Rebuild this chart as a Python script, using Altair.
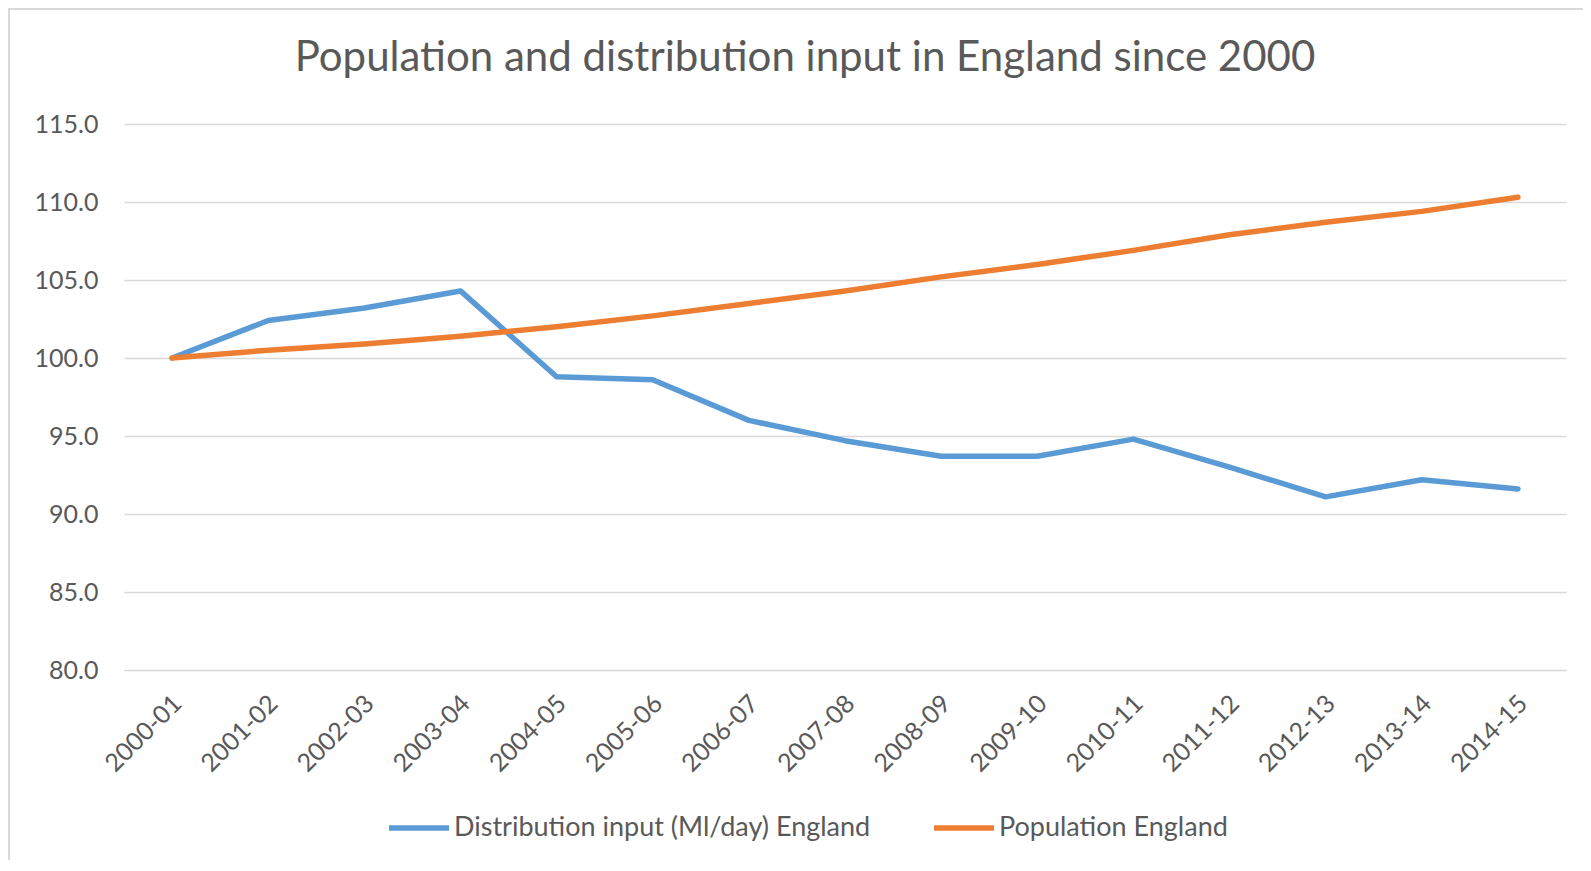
import altair as alt
import pandas as pd

years = ["2000-01", "2001-02", "2002-03", "2003-04", "2004-05", "2005-06", "2006-07",
         "2007-08", "2008-09", "2009-10", "2010-11", "2011-12", "2012-13", "2013-14", "2014-15"]
distribution = [100.0, 102.4, 103.2, 104.3, 98.8, 98.6, 96.0, 94.7, 93.7, 93.7, 94.8, 93.0, 91.1, 92.2, 91.6]
population = [100.0, 100.5, 100.9, 101.4, 102.0, 102.7, 103.5, 104.3, 105.2, 106.0, 106.9, 107.9, 108.7, 109.4, 110.3]
series_names = ["Distribution input (Ml/day) England", "Population England"]
series_colors = ["#5B9BD5", "#ED7D31"]
y_ticks = [80, 85, 90, 95, 100, 105, 110, 115]
title_text = "Population and distribution input in England since 2000"

rows = []
for yr, d, p in zip(years, distribution, population):
    rows.append({"year": yr, "series": series_names[0], "value": d})
    rows.append({"year": yr, "series": series_names[1], "value": p})
df = pd.DataFrame(rows)
one = pd.DataFrame({"title": [title_text]})

FONT = "Lato"
TXT = "#595959"
GRID = "#D9D9D9"

lines = alt.Chart(df).mark_line(strokeWidth=5.5, strokeCap="round", strokeJoin="round").encode(
    x=alt.X("year:N", sort=years,
            scale=alt.Scale(type="point", padding=0.5),
            axis=alt.Axis(title=None, labelAngle=-45, labelAlign="right", labelBaseline="middle",
                          labelPadding=29, labelOffset=5, ticks=False, domain=True, domainColor=GRID,
                          labelFontSize=25, labelColor=TXT, labelFont=FONT, grid=False)),
    y=alt.Y("value:Q", scale=alt.Scale(domain=[80, 115], nice=False, zero=False),
            axis=alt.Axis(title=None, values=y_ticks, format=".1f", ticks=False, domain=False,
                          grid=True, gridColor=GRID, gridWidth=1.3, labelPadding=26,
                          labelFontSize=25, labelColor=TXT, labelFont=FONT)),
    color=alt.Color("series:N", scale=alt.Scale(domain=series_names, range=series_colors),
                    legend=alt.Legend(title=None, orient="none", legendX=262, legendY=671,
                                      direction="horizontal", symbolType="stroke",
                                      symbolSize=3600, symbolStrokeWidth=5.5,
                                      labelFontSize=27, labelColor=TXT, labelFont=FONT,
                                      labelOffset=2, columnPadding=52, labelLimit=700,
                                      padding=0)),
)

title = alt.Chart(one).mark_text(font=FONT, fontSize=42, color=TXT, align="center",
                                 baseline="alphabetic").encode(
    text="title:N", x=alt.value(681), y=alt.value(-53))

border_left = alt.Chart(one).mark_rect(color=GRID).encode(
    x=alt.value(-116), x2=alt.value(-114), y=alt.value(-116), y2=alt.value(760))
border_top = alt.Chart(one).mark_rect(color=GRID).encode(
    x=alt.value(-116), x2=alt.value(1480), y=alt.value(-116), y2=alt.value(-114))

chart = alt.layer(border_left, border_top, title, lines).properties(
    width=1442, height=546,
    autosize=alt.AutoSizeParams(type="none"),
    padding={"left": 116, "top": 116, "right": 17, "bottom": 190},
).configure_view(stroke=None)

chart.save("out.html", embed_options={"renderer": "svg", "actions": False})
